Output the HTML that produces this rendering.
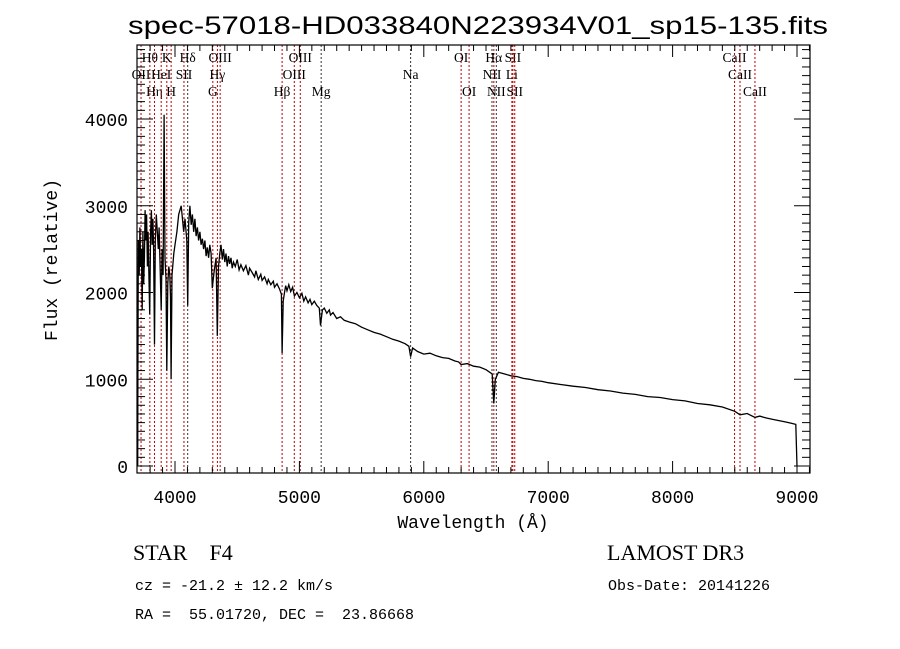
<!DOCTYPE html>
<html><head><meta charset="utf-8"><style>
html,body{margin:0;padding:0;background:#fff;width:900px;height:649px;overflow:hidden}
svg{display:block}
</style></head><body>
<svg id="chart" width="900" height="649" xmlns="http://www.w3.org/2000/svg">
<text x="478" y="34" text-anchor="middle" font-family="Liberation Sans, sans-serif" font-size="25" textLength="700" lengthAdjust="spacingAndGlyphs">spec-57018-HD033840N223934V01_sp15-135.fits</text>
<text x="473" y="528" text-anchor="middle" font-family="Liberation Mono, monospace" font-size="18">Wavelength (Å)</text>
<text transform="translate(57,260) rotate(-90)" text-anchor="middle" font-family="Liberation Mono, monospace" font-size="18">Flux (relative)</text>
<text x="133" y="560" font-family="Liberation Serif, serif" font-size="22" xml:space="preserve">STAR    F4</text>
<text x="607" y="560" font-family="Liberation Serif, serif" font-size="22">LAMOST DR3</text>
<text x="135" y="590" font-family="Liberation Mono, monospace" font-size="15">cz = -21.2 ± 12.2 km/s</text>
<text x="608" y="590" font-family="Liberation Mono, monospace" font-size="15">Obs-Date: 20141226</text>
<text x="135" y="619" font-family="Liberation Mono, monospace" font-size="15" xml:space="preserve">RA =  55.01720, DEC =  23.86668</text>
</svg>
<script>
const wave=[3700,3702,3705,3712,3718,3724,3730,3736,3742,3748,3754,3760,3766,3772,3778,3784,3790,3797,3804,3810,3816,3822,3828,3835,3842,3850,3858,3866,3872,3880,3889,3896,3904,3912,3920,3928,3934,3942,3950,3958,3964,3969,3976,3990,4000,4015,4030,4050,4070,4080,4095,4102,4110,4120,4130,4140,4150,4160,4170,4180,4190,4200,4210,4220,4230,4240,4250,4260,4270,4280,4290,4300,4315,4330,4340,4350,4360,4370,4380,4390,4400,4410,4420,4430,4440,4450,4460,4470,4485,4500,4515,4530,4550,4570,4590,4600,4620,4640,4650,4670,4690,4700,4720,4740,4750,4770,4790,4800,4820,4840,4855,4861,4870,4880,4890,4900,4915,4930,4945,4960,4980,5000,5020,5035,5050,5070,5085,5100,5120,5140,5160,5170,5185,5200,5220,5240,5250,5270,5300,5330,5360,5400,5450,5500,5550,5600,5650,5700,5750,5800,5850,5880,5894,5910,5950,6000,6050,6100,6150,6200,6250,6280,6300,6350,6400,6450,6500,6550,6563,6575,6600,6650,6700,6750,6800,6850,6900,6950,7000,7100,7200,7300,7400,7500,7600,7700,7800,7900,8000,8100,8200,8300,8400,8500,8542,8600,8662,8700,8750,8800,8850,8900,8950,8990,9000];
const flux=[0,1100,2600,2200,2750,2300,2500,1800,2700,2100,2400,2950,2600,2900,2300,2700,2200,1750,2700,2950,2550,2850,2500,1400,2600,2900,2700,2500,2750,2300,1800,2500,2200,4050,2400,2150,1100,2100,2300,2200,1950,1000,2200,2450,2550,2700,2900,3000,2700,2850,2600,1850,2800,3000,2780,2900,2700,2850,2650,2750,2600,2700,2550,2620,2500,2600,2420,2520,2400,2550,2450,2050,2250,2400,1500,2300,2450,2550,2380,2500,2350,2450,2300,2420,2330,2400,2280,2350,2300,2380,2260,2320,2250,2310,2200,2280,2230,2180,2250,2150,2210,2140,2180,2100,2150,2090,2130,2060,2100,2040,1980,1300,1900,2000,2080,2020,2090,2010,2060,1960,2000,1940,1990,1900,1950,1880,1920,1860,1900,1850,1820,1620,1800,1820,1760,1800,1740,1770,1700,1720,1680,1660,1640,1600,1570,1540,1520,1490,1460,1440,1410,1380,1260,1360,1320,1290,1300,1270,1250,1240,1210,1200,1170,1180,1150,1140,1110,1060,720,1000,1080,1060,1040,1030,1010,1000,985,975,960,940,920,905,880,865,840,825,800,790,765,750,720,705,680,630,590,605,560,575,555,540,525,510,495,480,0];
const lineNames=["OII","Hθ","Hη","HeI","K","H","SII","Hδ","G","Hγ","OIII","Hβ","OIII","OIII","Mg","Na","OI","OI","NII","Hα","NII","Li","SII","SII","CaII","CaII","CaII"];
const lineWaves=[3727,3798,3835,3889,3934,3969,4072,4102,4304,4341,4363,4861,4959,5007,5175,5894,6300,6364,6548,6563,6583,6708,6716,6731,8498,8542,8662];
const lineRows=[2,1,3,2,1,3,2,1,3,2,1,3,2,1,3,2,1,3,2,1,3,2,1,3,1,2,3];
const lineKinds=["r","r","r","r","r","r","r","k","r","r","r","r","r","r","k","k","r","r","k","r","k","r","r","r","r","r","r"];
const xTicks=[4000,5000,6000,7000,8000,9000];
const yTicks=[0,1000,2000,3000,4000];

const L=137,R=810,T=45,B=473;
const X=w=>175+(w-4000)*0.1244;
const Y=f=>466-f*0.08675;
const svg=document.getElementById('chart');
const NS='http://www.w3.org/2000/svg';
function mk(tag,attrs,parent){const e=document.createElementNS(NS,tag);for(const k in attrs)e.setAttribute(k,attrs[k]);(parent||svg).appendChild(e);return e;}

const lg=mk('g',{});


const rowY=[0,62,79,96];
lineWaves.forEach((w,i)=>{
  const x=X(w);
  const ln=mk('line',{x1:x,x2:x,y1:T,y2:B,stroke:lineKinds[i]==='r'?'#c00000':'#333','stroke-width':1,'stroke-dasharray':'2,2'},lg);
  
  
  const t=mk('text',{x:x,y:rowY[lineRows[i]],'text-anchor':'middle','font-family':'Liberation Serif, serif','font-size':13.5},lg);
  
  
  t.textContent=lineNames[i];
});

const n=Math.min(wave.length,flux.length);
let d='';
for(let i=0;i<n;i++){d+=(i?'L':'M')+X(wave[i]).toFixed(1)+','+Y(flux[i]).toFixed(1);}
const sp=mk('path',{d:d,fill:'none',stroke:'#000','stroke-width':1.3});



const fr=mk('rect',{x:L,y:T,width:R-L,height:B-T,fill:'none',stroke:'#000','stroke-width':1.2});



const tg=mk('g',{stroke:'#000','stroke-width':1});


for(let w=3800;w<=9100;w+=100){const x=X(w);if(x<L||x>R)continue;const big=w%1000===0;const s=big?12:6;
  mk('line',{x1:x,x2:x,y1:B,y2:B-s},tg);mk('line',{x1:x,x2:x,y1:T,y2:T+s},tg);}
for(let f=0;f<=4800;f+=100){const y=Y(f);if(y<T||y>B)continue;const big=f%1000===0;const s=big?16:8;
  mk('line',{x1:L,x2:L+s,y1:y,y2:y},tg);mk('line',{x1:R,x2:R-s,y1:y,y2:y},tg);}
xTicks.forEach(v=>{const t=mk('text',{x:X(v),y:503,'text-anchor':'middle','font-family':'Liberation Mono, monospace','font-size':18});
  t.textContent=v;});
yTicks.forEach(v=>{const t=mk('text',{x:128,y:Y(v)+7,'text-anchor':'end','font-family':'Liberation Mono, monospace','font-size':18});
  t.textContent=v;});
</script>
</body></html>
